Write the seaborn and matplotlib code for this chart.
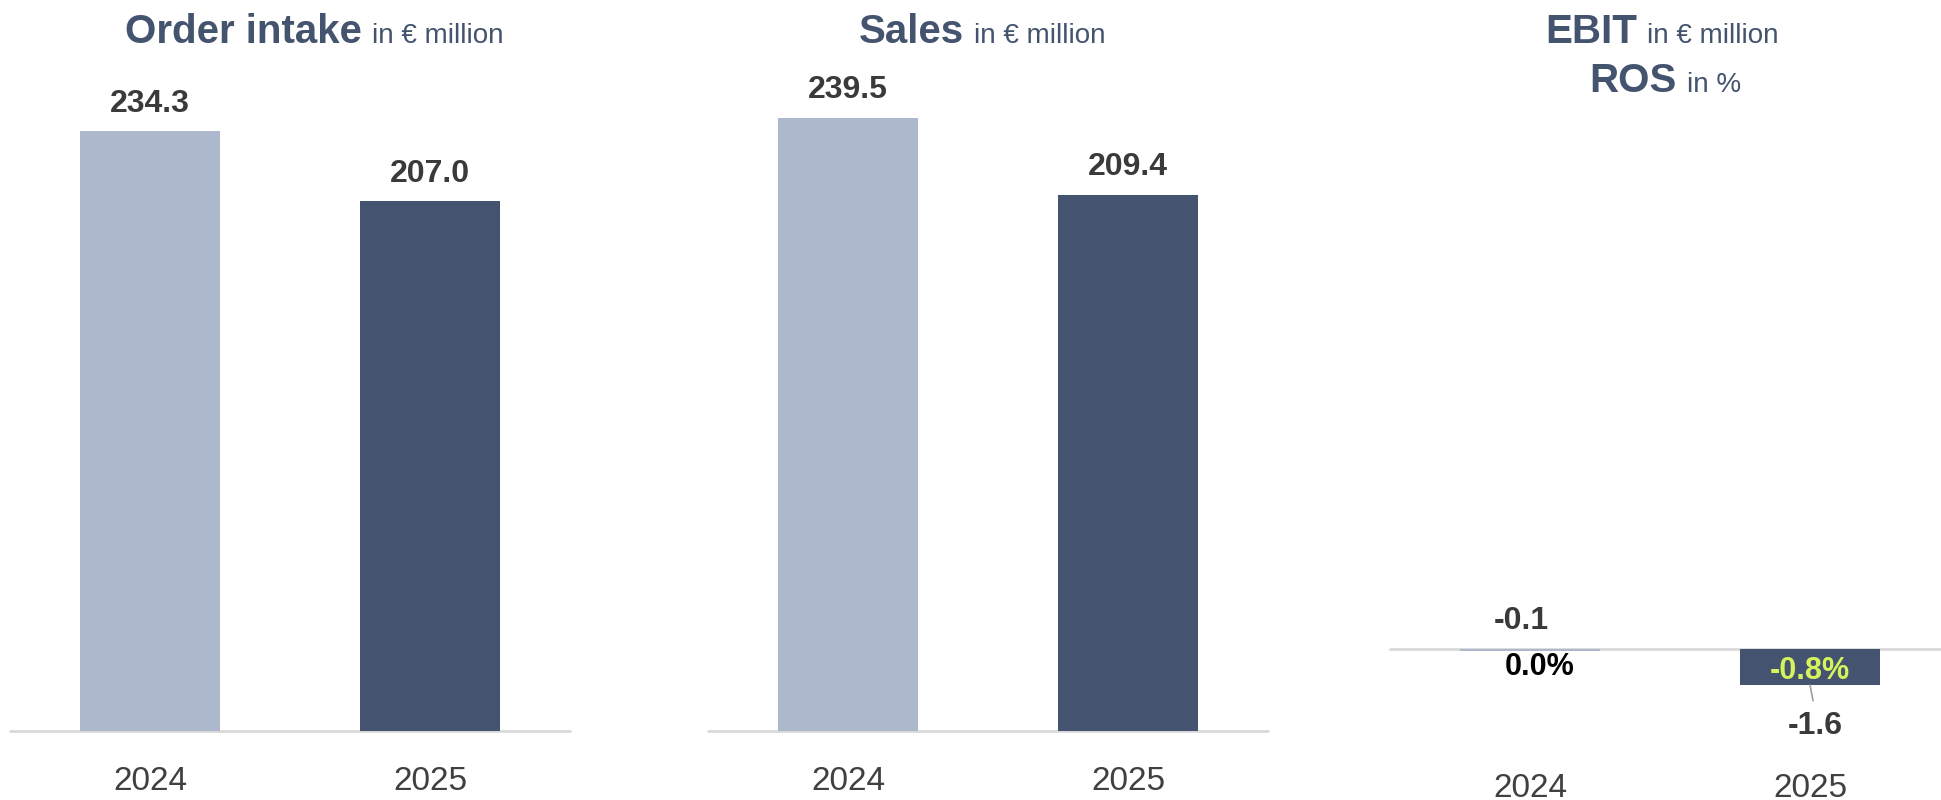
import matplotlib
matplotlib.use("Agg")
import matplotlib.pyplot as plt
import seaborn as sns
import pandas as pd

# ---- data -------------------------------------------------------------
years = ["2024", "2025"]
order_intake = [234.3, 207.0]
sales = [239.5, 209.4]
ebit = [-0.1, -1.6]
ros = [0.0, -0.8]

# ---- style ------------------------------------------------------------
LIGHT = "#adb8cc"
DARK = "#435370"
TITLE = "#44546f"
VALUE = "#3a3a3a"
TICK = "#404040"
ZERO = "#d9d9d9"
ACCENT = "#d6f35b"
LEADER = "#a0a0a0"

sns.set_theme(style="white")
plt.rcParams["font.family"] = ["Liberation Sans", "DejaVu Sans"]

W, H = 1941, 800
fig = plt.figure(figsize=(W / 100, H / 100), dpi=100)
fig.patch.set_facecolor("white")


def add_panel(x0, x1):
    """Axes spanning the given pixel columns, shared vertical extent."""
    return fig.add_axes([x0 / W, 69 / H, (x1 - x0) / W, 700 / H])


def draw_bars(ax, values, ylim, tick_pad):
    df = pd.DataFrame({"year": years, "value": values})
    sns.barplot(data=df, x="year", y="value", hue="year",
                palette=[LIGHT, DARK], width=0.5, saturation=1,
                linewidth=0, legend=False, ax=ax, zorder=2)
    ax.axhline(0, color=ZERO, lw=2, zorder=1, clip_on=False)
    ax.set_xlim(-0.5, 1.5)
    ax.set_ylim(*ylim)
    ax.set_xlabel("")
    ax.set_ylabel("")
    ax.set_yticks([])
    ax.set_facecolor("none")
    for s in ax.spines.values():
        s.set_visible(False)
    ax.tick_params(axis="x", length=0, pad=tick_pad, labelsize=24,
                   labelcolor=TICK)


# scale for the two revenue panels: 2.56 px per € million
rev_ylim = (0, 700 / 2.56)

ax1 = add_panel(10, 570)
draw_bars(ax1, order_intake, rev_ylim, 25)
for i, v in enumerate(order_intake):
    ax1.annotate(f"{v:.1f}", xy=(i, v), xytext=(0, 14),
                 textcoords="offset points", ha="center", va="baseline",
                 fontsize=23, fontweight="bold", color=VALUE)

ax2 = add_panel(708, 1268)
draw_bars(ax2, sales, rev_ylim, 25)
for i, v in enumerate(sales):
    ax2.annotate(f"{v:.1f}", xy=(i, v), xytext=(0, 14),
                 textcoords="offset points", ha="center", va="baseline",
                 fontsize=23, fontweight="bold", color=VALUE)

# EBIT panel: 22.5 px per € million, zero line 82 px above the axes bottom
ax3 = add_panel(1390, 1950)
draw_bars(ax3, ebit, (-82 / 22.5, (700 - 82) / 22.5), 30)

# EBIT 2024: tiny value, label above the zero line
ax3.annotate(f"{ebit[0]:.1f}", xy=(0, 0), xytext=(-6, 14.5),
             textcoords="offset points", ha="center", va="baseline",
             fontsize=23, fontweight="bold", color=VALUE)
# ROS 2024 just below the zero line
ax3.annotate(f"{ros[0]:.1f}%", xy=(0, 0), xytext=(7, -19),
             textcoords="offset points", ha="center", va="baseline",
             fontsize=22, fontweight="bold", color="black")
# ROS 2025 inside the bar
ax3.annotate(f"{ros[1]:.1f}%", xy=(1, 0), xytext=(0, -21.5),
             textcoords="offset points", ha="center", va="baseline",
             fontsize=22, fontweight="bold", color=ACCENT)
# EBIT 2025 below the bar with a short leader
ax3.annotate(f"{ebit[1]:.1f}", xy=(1, ebit[1]), xytext=(3.6, -29.5),
             textcoords="offset points", ha="center", va="center",
             fontsize=23, fontweight="bold", color=VALUE,
             arrowprops=dict(arrowstyle="-", color=LEADER, lw=1.2,
                             relpos=(0.5, 1.0), shrinkA=5, shrinkB=0))

# ---- titles -------------------------------------------------------------
renderer = fig.canvas.get_renderer()


def title_line(cx, y_px, bold, light):
    t1 = fig.text(0, 0, bold, fontsize=29, fontweight="bold",
                  color=TITLE, va="baseline")
    t2 = fig.text(0, 0, light, fontsize=20, color=TITLE, va="baseline")
    w1 = t1.get_window_extent(renderer).width
    w2 = t2.get_window_extent(renderer).width
    gap = 10
    x0 = cx - (w1 + gap + w2) / 2
    yf = (H - y_px) / H
    t1.set_position((x0 / W, yf))
    t2.set_position(((x0 + w1 + gap) / W, yf))


title_line(314, 43, "Order intake", "in € million")
title_line(982, 43, "Sales", "in € million")
title_line(1662, 43, "EBIT", "in € million")
title_line(1665, 92, "ROS", "in %")

fig.savefig("out.png", dpi=100, facecolor="white")
